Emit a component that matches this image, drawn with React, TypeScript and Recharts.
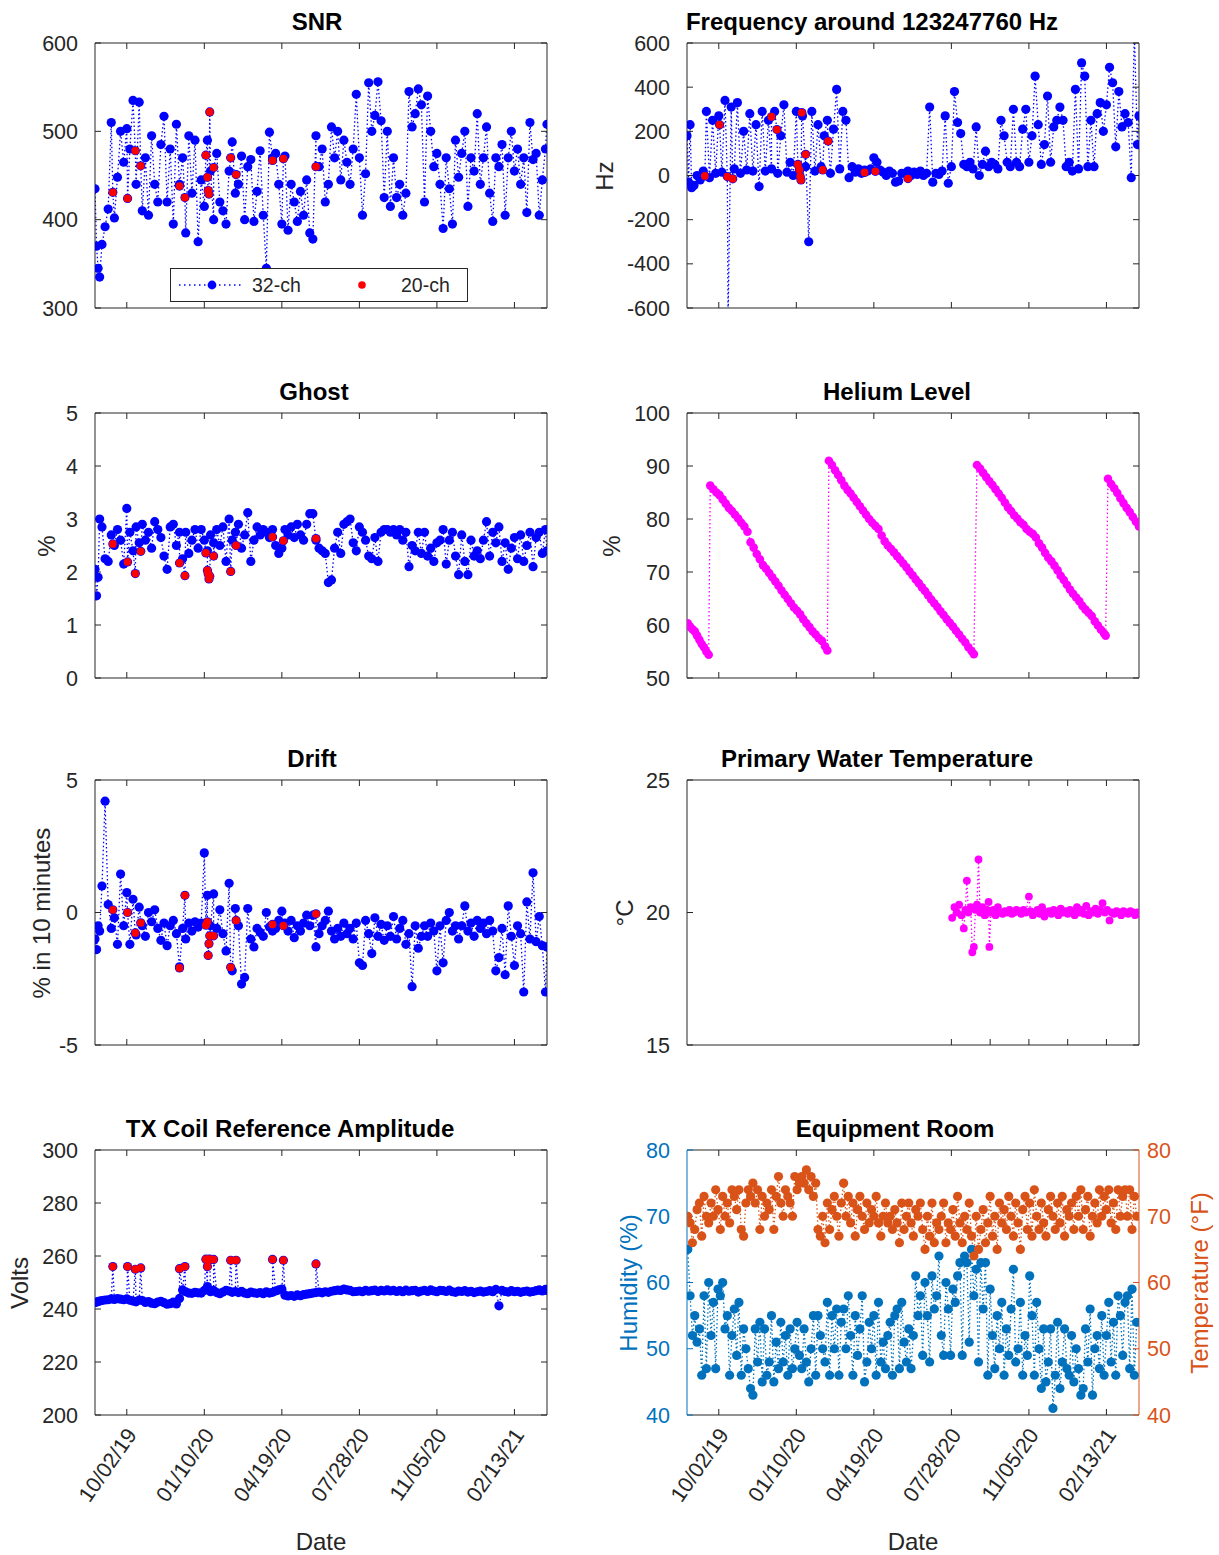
import React from 'react';
import { ComposedChart, Line, XAxis, YAxis } from 'recharts';

const FONT = '"Liberation Sans", Arial, Helvetica, sans-serif';
const INK = '#262626';
const BLUE = '#0000FF';
const RED = '#FF0000';
const MAGENTA = '#FF00FF';
const HUM = '#0072BD';
const TEMP = '#D95319';

// days are counted from 10/02/19
const X_DOMAIN: [number, number] = [-41, 542];
const dateTicks = [0, 100, 200, 300, 400, 500];
const dateLabels = ['10/02/19', '01/10/20', '04/19/20', '07/28/20', '11/05/20', '02/13/21'];
const waterTicks = [300, 350, 400, 450, 500];

// ---- QA scans (32-ch coil)
const qaDays = [
  -41, -39, -37, -35, -32, -28, -24, -20, -16, -12, -8, -4,
  0, 4, 8, 12, 16, 20, 24, 28, 32, 36, 40, 44,
  48, 52, 56, 60, 64, 68, 72, 76, 80, 84, 88, 92,
  96, 100, 104, 108, 112, 116, 120, 124, 128, 132, 136, 140,
  144, 148, 152, 156, 160, 164, 168, 172, 176, 180, 184, 188,
  192, 196, 200, 204, 208, 212, 216, 220, 224, 228, 232, 236,
  240, 244, 248, 252, 256, 260, 264, 268, 272, 276, 280, 284,
  288, 292, 296, 300, 304, 308, 312, 316, 320, 324, 328, 332,
  336, 340, 344, 348, 352, 356, 360, 364, 368, 372, 376, 380,
  384, 388, 392, 396, 400, 404, 408, 412, 416, 420, 424, 428,
  432, 436, 440, 444, 448, 452, 456, 460, 464, 468, 472, 476,
  480, 484, 488, 492, 496, 500, 504, 508, 512, 516, 520, 524,
  528, 532, 536, 540, 542,
];

const snr32 = [
  435, 370, 345, 335, 372, 392, 412, 510, 402, 448, 500, 465,
  503, 480, 535, 440, 533, 410, 470, 405, 495, 440, 420, 485,
  517, 420, 480, 395, 508, 440, 470, 385, 495, 430, 490, 375,
  445, 415, 490, 455, 400, 475, 420, 410, 395, 455, 488, 430,
  440, 472, 400, 460, 468, 398, 432, 478, 405, 345, 499, 470,
  475, 440, 395, 472, 388, 440, 420, 398, 432, 405, 445, 385,
  378, 495, 460, 480, 420, 440, 505, 470, 500, 445, 490, 465,
  440, 480, 542, 470, 405, 452, 555, 500, 518, 556, 512, 425,
  500, 415, 470, 425, 440, 405, 430, 545, 505, 520, 548, 530,
  420, 540, 500, 460, 475, 440, 390, 470, 435, 395, 490, 448,
  475, 500, 415, 470, 455, 520, 440, 470, 505, 430, 398, 470,
  460, 485, 405, 470, 500, 455, 480, 440, 470, 408, 510, 468,
  475, 405, 445, 480, 508,
];

const freq32 = [
  180, -30, 230, -55, -45, 0, -20, 20, 290, -10, 250, 10,
  270, 15, 340, -650, 310, 30, 330, 10, 200, 25, 280, 20,
  230, -50, 290, 20, 250, 30, 290, 10, 180, 320, 15, 60,
  0, 290, 20, 270, 40, -300, 290, 20, 230, 40, 180, 250,
  10, 210, 390, 30, 290, 250, -10, 40, 15, 30, 10, 25,
  20, 30, 80, 60, 25, 15, 0, 20, 10, -30, -25, 10,
  10, 20, 0, 15, 5, 20, 0, 10, 310, -30, 10, 5,
  20, 270, -35, 40, 380, 240, 190, 50, 40, 60, 30, 220,
  0, 50, 110, 40, 60, 50, 30, 250, 180, 60, 40, 300,
  60, 40, 210, 300, 60, 180, 450, 230, 50, 140, 360, 60,
  220, 250, 310, 250, 40, 60, 20, 390, 30, 510, 450, 40,
  250, 40, 280, 330, 200, 320, 490, 420, 130, 380, 220, 280,
  240, -10, 650, 140, 270,
];

const ghost32 = [
  2.05, 1.55, 1.9, 3.0, 2.85, 2.25, 2.2, 2.7, 2.5, 2.8, 2.6, 2.15,
  3.2, 2.75, 2.4, 2.85, 2.55, 2.9, 2.6, 2.75, 2.45, 2.95, 2.8, 2.65,
  2.3, 2.05, 2.85, 2.9, 2.5, 2.75, 2.25, 2.75, 2.35, 2.6, 2.8, 2.45,
  2.8, 2.6, 2.4, 2.7, 2.55, 2.8, 2.5, 2.85, 2.2, 3.0, 2.6, 2.75,
  2.9, 2.45, 2.7, 3.12, 2.2, 2.6, 2.85, 2.7, 2.8, 2.75, 2.65, 2.8,
  2.5, 2.35, 2.45, 2.8, 2.7, 2.85, 2.65, 2.9, 2.7, 2.6, 2.9, 3.1,
  3.1, 2.6, 2.45, 2.4, 2.35, 1.8, 1.85, 2.45, 2.75, 2.35, 2.9, 2.95,
  3.0, 2.55, 2.4, 2.85, 2.75, 2.6, 2.3, 2.25, 2.65, 2.2, 2.75, 2.8,
  2.8, 2.75, 2.8, 2.7, 2.8, 2.6, 2.75, 2.1, 2.5, 2.4, 2.75, 2.35,
  2.75, 2.3, 2.45, 2.2, 2.55, 2.6, 2.8, 2.15, 2.6, 2.75, 2.3, 1.95,
  2.7, 2.2, 1.95, 2.6, 2.3, 2.4, 2.25, 2.6, 2.95, 2.3, 2.75, 2.55,
  2.85, 2.2, 2.55, 2.05, 2.45, 2.65, 2.25, 2.7, 2.2, 2.5, 2.75, 2.1,
  2.65, 2.75, 2.35, 2.8, 2.4,
];

const drift32 = [
  -1.0, -1.4, -0.5, -0.7, 1.0, 4.2, 0.3, -0.6, -0.2, -1.2, 1.45, -0.5,
  0.75, -1.2, 0.5, -0.85, 0.2, -0.5, -0.9, 0.0, -0.35, 0.1, -0.6, -1.05,
  -0.4, -1.25, -0.5, -0.3, -0.8, -2.05, -0.6, -1.0, -0.4, -0.7, -0.35, -0.55,
  -0.4, 2.25, 0.65, -0.5, 0.7, -0.6, 0.1, -0.8, -1.45, 1.1, -2.2, 0.15,
  -0.5, -2.7, -2.45, 0.15, -1.0, -1.3, -0.6, -0.75, -0.9, 0.0, -0.55, -0.7,
  -0.6, -0.3, 0.05, -0.4, -0.7, -0.3, -0.95, -0.5, -0.7, -0.4, -0.1, -0.5,
  -0.1, -1.3, -0.8, -0.5, -0.3, 0.05, -0.7, -1.0, -0.6, -0.9, -0.4, -0.8,
  -0.6, -1.0, -0.4, -1.9, -2.0, -0.3, -0.8, -1.55, -0.2, -0.9, -0.45, -1.05,
  -0.5, -0.9, -0.15, -1.0, -0.6, -0.3, -1.2, -0.8, -2.8, -0.5, -1.35, -0.9,
  -0.5, -0.9, -0.4, -0.7, -2.2, -0.5, -1.9, -0.3, 0.0, -0.7, -0.5, -1.0,
  -0.5, 0.25, -0.7, -0.4, -0.9, -0.3, -0.6, -0.4, -0.8, -0.3, -0.7, -2.2,
  -1.7, -0.6, -2.35, 0.25, -0.9, -2.0, -0.5, -0.8, -3.0, 0.4, -1.0, 1.5,
  -1.1, -0.15, -1.25, -3.0, -1.3,
];

const tx32 = [
  242.5, 242.6, 242.8, 243.0, 243.2, 243.4, 243.5, 243.8, 243.6, 243.9, 243.7, 243.5,
  243.8, 243.3, 243.0, 242.7, 243.4, 243.2, 242.5, 242.8, 242.2, 242.0, 242.6, 242.9,
  242.4, 241.8, 242.0, 242.6, 241.9, 244.0, 247.2, 246.5, 246.0, 245.9, 246.3, 246.1,
  246.0, 247.0, 248.5, 246.5, 247.0, 246.2, 245.8, 246.4, 247.0, 246.8, 246.3, 246.6,
  246.2, 246.7, 246.0, 245.8, 246.4, 246.1, 245.9, 246.2, 245.8, 246.5, 246.0, 246.3,
  246.8, 247.2, 247.5, 245.2, 244.9, 245.1, 244.8, 245.3, 245.0, 245.4, 245.6, 245.8,
  246.0, 246.2, 246.4, 246.1, 246.5, 246.3, 246.7, 246.9, 247.1, 247.0, 247.5, 247.2,
  247.0, 246.5, 246.6, 246.8, 246.5, 247.0, 246.7, 246.9, 247.1, 246.6, 247.0, 246.8,
  247.2, 246.8, 247.0, 246.6, 246.9, 246.5, 247.1, 246.7, 246.9, 247.0, 246.4, 246.8,
  247.0, 246.6, 247.2, 246.8, 246.5, 247.0, 246.9, 246.6, 247.1, 246.5, 246.3, 246.8,
  246.6, 246.9, 246.4, 246.7, 246.2, 246.5, 246.8, 246.4, 246.6, 246.9, 246.5, 247.4,
  241.2, 247.0, 246.6, 246.4, 246.9, 246.5, 246.7, 246.3, 246.6, 246.8, 246.4, 246.6,
  246.9, 247.2, 246.8, 247.4, 247.0,
];

// ---- QA scans (20-ch coil)
const ch20Days = [-18, 1, 11, 18, 68, 75, 102, 104, 105, 106, 107, 112, 134, 141, 188, 202, 244];
const snr20 = [431, 424, 478, 461, 438, 425, 473, 448, 433, 429, 522, 459, 470, 451, 467, 469, 460];
const freq20 = [-2, 230, -5, -15, 266, 208, 50, 25, -5, -20, 285, 96, 25, 156, 14, 19, -14];
const ghost20 = [2.53, 2.19, 1.97, 2.39, 2.17, 1.93, 2.36, 2.03, 1.96, 1.87, 1.92, 2.3, 2.01, 2.5, 2.66, 2.59, 2.63];
const drift20 = [0.1, 0.0, -0.77, -0.39, -2.09, 0.65, -0.48, -0.35, -1.62, -1.18, -0.88, -0.88, -2.07, -0.3, -0.45, -0.5, -0.05];
const tx20 = [256, 256, 255, 255.5, 255.2, 256, 258.8, 256, 258.7, 258.5, 258.8, 258.7, 258.4, 258.4, 258.7, 258.4, 257];

// ---- helium level
const heliumDays = [
  -40, -37, -34, -31, -28, -25, -22, -19, -16, -13,
  -11, -7, -3, 1, 5, 9, 13, 17, 21, 25, 29, 33, 37, 41, 45, 49, 53, 57, 61, 65,
  69, 73, 77, 81, 85, 89, 93, 97, 101, 105, 109, 113, 117, 121, 125, 129, 133, 137, 140,
  142, 146, 150, 154, 158, 162, 166, 170, 174, 178, 182, 186, 190, 194, 198, 202,
  206, 210, 214, 218, 222, 226, 230, 234, 238, 242, 246, 250, 254, 258, 262, 266,
  270, 274, 278, 282, 286, 290, 294, 298, 302, 306, 310, 314, 318, 322, 326, 329,
  333, 337, 341, 345, 349, 353, 357, 361, 365, 369, 373, 377, 381, 385, 389, 393,
  397, 401, 405, 409, 413, 417, 421, 425, 429, 433, 437, 441, 445, 449, 453, 457,
  461, 465, 469, 473, 477, 481, 485, 489, 493, 497, 499,
  502, 506, 510, 514, 518, 522, 526, 530, 534, 538, 542,
];
const heliumLevel = [
  60.3, 59.7, 59.2, 58.8, 58.0, 57.2, 56.4, 55.8, 55.0, 54.4,
  86.3, 85.6, 85.0, 84.5, 83.7, 82.9, 82.1, 81.5, 80.8, 80.1, 79.3, 78.6, 77.6, 75.6, 74.6, 73.4, 72.4, 71.3, 70.6, 69.8,
  69.0, 68.2, 67.4, 66.5, 65.7, 64.9, 64.1, 63.3, 62.7, 62.0, 61.1, 60.3, 59.6, 58.8, 58.2, 57.5, 57.0, 56.0, 55.2,
  91.0, 90.2, 89.2, 88.3, 87.3, 86.3, 85.5, 84.8, 84.0, 83.2, 82.4, 81.6, 80.8, 80.0, 79.3, 78.7,
  78.1, 76.9, 75.8, 75.0, 74.4, 73.7, 73.0, 72.3, 71.6, 70.9, 70.1, 69.4, 68.6, 67.9, 67.1, 66.4,
  65.6, 64.8, 64.1, 63.4, 62.6, 61.9, 61.1, 60.4, 59.7, 58.9, 58.2, 57.4, 56.7, 55.8, 55.1, 54.5,
  90.2, 89.5, 88.7, 87.9, 87.1, 86.4, 85.6, 84.8, 84.0, 83.1, 82.2, 81.5, 80.7, 80.1, 79.4, 78.9,
  78.1, 77.6, 77.2, 76.5, 75.4, 74.6, 73.6, 72.7, 72.0, 71.2, 70.3, 69.3, 68.5, 67.6, 66.7, 65.9,
  65.2, 64.5, 63.6, 62.9, 62.3, 61.7, 60.7, 59.9, 59.1, 58.4, 58.0,
  87.6, 86.6, 85.8, 84.9, 83.9, 83.0, 82.1, 81.3, 80.4, 79.5, 78.6,
];

// ---- primary water temperature
const waterDays = [
  301, 304, 307, 310, 313, 316, 318, 320, 322, 325,
  327, 329, 331, 333, 335, 337, 340, 343, 346, 348,
  349, 351, 354, 357, 360, 363, 366, 369, 372, 375,
  378, 381, 384, 387, 390, 393, 396, 400, 402, 405,
  408, 411, 414, 417, 420, 423, 426, 429, 432, 435,
  438, 441, 444, 447, 450, 453, 456, 459, 462, 465,
  468, 471, 474, 477, 480, 483, 486, 489, 492, 495,
  498, 501, 504, 507, 510, 513, 516, 519, 522, 525,
  528, 531, 534, 537, 540, 542,
];
const waterTemp = [
  19.8, 20.2, 20.0, 20.3, 19.9, 19.4, 20.1, 21.2, 20.0, 20.2,
  18.5, 18.7, 20.1, 20.3, 22.0, 20.0, 20.2, 19.9, 20.1, 20.4,
  18.7, 20.0, 20.1, 19.9, 20.2, 20.0, 19.95, 20.05, 20.0, 20.1,
  19.95, 20.0, 20.1, 20.05, 19.95, 20.1, 20.0, 20.6, 20.05, 19.9,
  20.0, 20.1, 19.95, 20.2, 19.85, 20.0, 20.05, 19.95, 20.1, 20.0,
  19.9, 20.15, 20.0, 20.05, 19.95, 20.1, 20.0, 19.9, 20.2, 20.0,
  20.1, 19.95, 20.25, 19.9, 20.05, 20.0, 20.15, 19.95, 20.1, 20.35,
  20.0, 20.1, 19.7, 20.0, 19.95, 20.05, 20.0, 19.9, 20.05, 20.0,
  19.95, 20.05, 20.0, 19.9, 20.0, 19.95,
];

// ---- equipment room
const roomDays = [
  -40, -37, -34, -31, -28, -25, -22, -19, -16, -13,
  -10, -7, -4, -1, 2, 5, 8, 11, 14, 17,
  20, 23, 26, 29, 32, 35, 38, 41, 44, 47,
  50, 53, 56, 59, 62, 65, 68, 71, 74, 77,
  80, 83, 86, 89, 92, 95, 98, 101, 104, 107,
  110, 113, 116, 119, 122, 125, 128, 131, 134, 137,
  140, 143, 146, 149, 152, 155, 158, 161, 164, 167,
  170, 173, 176, 179, 182, 185, 188, 191, 194, 197,
  200, 203, 206, 209, 212, 215, 218, 221, 224, 227,
  230, 233, 236, 239, 242, 245, 248, 251, 254, 257,
  260, 263, 266, 269, 272, 275, 278, 281, 284, 287,
  290, 293, 296, 299, 302, 305, 308, 311, 314, 317,
  320, 323, 326, 329, 332, 335, 338, 341, 344, 347,
  350, 353, 356, 359, 362, 365, 368, 371, 374, 377,
  380, 383, 386, 389, 392, 395, 398, 401, 404, 407,
  410, 413, 416, 419, 422, 425, 428, 431, 434, 437,
  440, 443, 446, 449, 452, 455, 458, 461, 464, 467,
  470, 473, 476, 479, 482, 485, 488, 491, 494, 497,
  500, 503, 506, 509, 512, 515, 518, 521, 524, 527,
  530, 533, 536, 539,
];
const roomHumidity = [
  65, 58, 52, 55, 51, 53, 46, 58, 47, 60,
  52, 57, 47, 59, 58, 60, 53, 55, 46, 52,
  56, 49, 57, 46, 53, 50, 47, 44, 43, 53,
  48, 54, 45, 53, 46, 48, 55, 45, 51, 47,
  54, 48, 52, 46, 53, 47, 50, 54, 49, 47,
  53, 48, 45, 50, 55, 46, 55, 52, 50, 48,
  57, 46, 55, 50, 56, 46, 54, 56, 50, 58,
  52, 46, 55, 49, 53, 58, 45, 48, 54, 50,
  55, 46, 57, 48, 51, 47, 52, 54, 46, 55,
  56, 47, 57, 51, 48, 53, 47, 52, 61, 55,
  58, 49, 60, 55, 48, 61, 56, 58, 64, 52,
  49, 60, 56, 49, 59, 57, 61, 63, 49, 64,
  63, 51, 65, 58, 62, 48, 63, 56, 63, 46,
  59, 52, 47, 55, 50, 57, 46, 53, 49, 56,
  62, 48, 50, 57, 46, 52, 49, 61, 55, 46,
  57, 50, 44, 53, 45, 48, 53, 41, 46, 54,
  44, 48, 53, 47, 46, 52, 45, 50, 47, 43,
  44, 53, 48, 56, 43, 50, 52, 47, 55, 46,
  52, 57, 48, 54, 46, 58, 55, 49, 57, 58,
  47, 59, 46, 54,
];
const roomTempF = [
  70, 69, 66, 68, 71, 72, 67, 73, 70, 69,
  72, 70, 74, 71, 68, 73, 70, 72, 69, 74,
  73, 71, 74, 68, 67, 72, 74, 73, 75, 72,
  74, 68, 73, 70, 72, 71, 74, 68, 73, 76,
  72, 70, 74, 73, 72, 70, 76, 74, 75, 76,
  75, 77, 74, 76, 73, 75, 68, 67, 70, 66,
  72, 68, 71, 73, 70, 67, 72, 75, 70, 73,
  69, 72, 67, 71, 73, 70, 68, 72, 69, 71,
  70, 73, 69, 67, 70, 72, 69, 70, 68, 71,
  69, 66, 72, 68, 70, 72, 69, 67, 71, 70,
  72, 68, 65, 70, 67, 72, 66, 69, 68, 70,
  72, 66, 69, 68, 71, 67, 73, 69, 66, 70,
  68, 72, 67, 64, 70, 65, 68, 71, 66, 69,
  73, 67, 70, 65, 72, 69, 71, 68, 73, 70,
  67, 72, 69, 65, 71, 73, 68, 72, 67, 74,
  70, 68, 72, 69, 67, 71, 73, 70, 68, 72,
  69, 73, 67, 71, 70, 72, 68, 73, 70, 74,
  68, 71, 73, 67, 70, 72, 69, 74, 70, 73,
  71, 74, 69, 72, 68, 74, 70, 73, 74, 70,
  74, 68, 73, 70,
];

type Pt = { day: number; v: number };
const zip = (days: number[], vals: number[]): Pt[] => days.map((day, i) => ({ day, v: vals[i] }));
// the 32-ch line runs through every scan; 20-ch scans are drawn again in red on top
const allScans = (a: Pt[], b: Pt[]) => [...a, ...b].sort((p, q) => p.day - q.day);

const snrRed = zip(ch20Days, snr20);
const freqRed = zip(ch20Days, freq20);
const ghostRed = zip(ch20Days, ghost20);
const driftRed = zip(ch20Days, drift20);
const txRed = zip(ch20Days, tx20);

const PLOT_W = 452;
const PLOT_H = 265;
const LEFT_W = 90;
const RIGHT_W = 70;
const TOP_M = 12;
const TICK_FONT = 21.5;

interface SeriesDef {
  data: Pt[];
  color: string;
  line?: boolean;
  r?: number;
  right?: boolean;
}

interface RightAxisDef {
  domain: [number, number];
  ticks: number[];
  color: string;
}

interface PanelProps {
  left: number;
  top: number;
  title: string;
  titleX: number;
  yDomain: [number, number];
  yTicks: number[];
  yLabel?: string;
  yLabelX?: number;
  leftColor?: string;
  series: SeriesDef[];
  xTicks?: number[];
  dates?: boolean;
  rightAxis?: RightAxisDef;
  rightLabel?: string;
  rightLabelX?: number;
}

const DateTick = (props: any) => {
  const { x, y, payload } = props;
  const label = dateLabels[dateTicks.indexOf(payload.value)] ?? '';
  const ax = x + 5;
  return (
    <text
      x={ax}
      y={y}
      textAnchor="end"
      dominantBaseline="central"
      transform={`rotate(-55 ${ax} ${y})`}
      fill={INK}
      fontSize={TICK_FONT}
      fontFamily={FONT}
    >
      {label}
    </text>
  );
};

const VLabel = ({ x, y, text, color = INK }: { x: number; y: number; text: string; color?: string }) => (
  <div
    style={{
      position: 'absolute',
      left: x,
      top: y,
      transform: 'translate(-50%, -50%) rotate(-90deg)',
      whiteSpace: 'nowrap',
      fontSize: 24,
      lineHeight: '24px',
      color,
    }}
  >
    {text}
  </div>
);

const blank = () => '';

const Panel = (p: PanelProps) => {
  const xTicks = p.xTicks ?? dateTicks;
  const bottomH = p.dates ? 140 : 12;
  const width = LEFT_W + PLOT_W + RIGHT_W;
  const height = TOP_M + PLOT_H + bottomH;
  const leftInk = p.leftColor ?? INK;
  const rightAxis = p.rightAxis ?? { domain: p.yDomain, ticks: p.yTicks, color: INK };
  const rightW = p.rightAxis ? RIGHT_W : 1;

  return (
    <>
      <div
        style={{
          position: 'absolute',
          left: p.titleX - 300,
          top: p.top - 33,
          width: 600,
          textAlign: 'center',
          fontSize: 24,
          lineHeight: '24px',
          fontWeight: 'bold',
          color: '#000',
        }}
      >
        {p.title}
      </div>
      <div style={{ position: 'absolute', left: p.left - LEFT_W, top: p.top - TOP_M }}>
        <ComposedChart
          width={width}
          height={height}
          margin={{ top: TOP_M - 1, right: RIGHT_W - rightW, bottom: 0, left: 0 }}
        >
          <XAxis
            xAxisId="b"
            type="number"
            dataKey="day"
            domain={X_DOMAIN}
            ticks={xTicks}
            interval={0}
            allowDataOverflow
            height={bottomH}
            stroke={INK}
            tickSize={-6}
            tickMargin={22}
            tick={p.dates ? (props: any) => <DateTick {...props} /> : { fill: INK }}
            tickFormatter={p.dates ? undefined : blank}
          />
          <XAxis
            xAxisId="t"
            orientation="top"
            type="number"
            dataKey="day"
            domain={X_DOMAIN}
            ticks={xTicks}
            interval={0}
            allowDataOverflow
            height={1}
            stroke={INK}
            tickSize={-6}
            tickFormatter={blank}
          />
          <YAxis
            yAxisId="l"
            type="number"
            domain={p.yDomain}
            ticks={p.yTicks}
            interval={0}
            allowDataOverflow
            width={LEFT_W}
            stroke={leftInk}
            tickSize={-6}
            tickMargin={23}
            tick={{ fill: leftInk, fontSize: TICK_FONT }}
          />
          <YAxis
            yAxisId="r"
            orientation="right"
            type="number"
            domain={rightAxis.domain}
            ticks={rightAxis.ticks}
            interval={0}
            allowDataOverflow
            width={rightW}
            stroke={rightAxis.color}
            tickSize={-6}
            tickMargin={14}
            tick={{ fill: rightAxis.color, fontSize: TICK_FONT }}
            tickFormatter={p.rightAxis ? undefined : blank}
          />
          {p.series.map((s, i) => (
            <Line
              key={i}
              xAxisId="b"
              yAxisId={s.right ? 'r' : 'l'}
              data={s.data}
              dataKey="v"
              type="linear"
              stroke={s.line === false ? 'none' : s.color}
              strokeWidth={1.3}
              strokeDasharray="1.5 2.5"
              dot={{ r: s.r ?? 4.6, fill: s.color, stroke: 'none', strokeDasharray: '' }}
              activeDot={false}
              isAnimationActive={false}
            />
          ))}
        </ComposedChart>
      </div>
      {p.yLabel && <VLabel x={p.yLabelX ?? p.left - 50} y={p.top + PLOT_H / 2} text={p.yLabel} color={leftInk} />}
      {p.rightLabel && (
        <VLabel x={p.rightLabelX ?? p.left + PLOT_W + 60} y={p.top + PLOT_H / 2} text={p.rightLabel} color={rightAxis.color} />
      )}
      {p.dates && (
        <div
          style={{
            position: 'absolute',
            left: p.left,
            top: p.top + PLOT_H + 115,
            width: PLOT_W,
            textAlign: 'center',
            fontSize: 24,
            lineHeight: '24px',
            color: INK,
          }}
        >
          Date
        </div>
      )}
    </>
  );
};

const SnrLegend = () => (
  <div
    style={{
      position: 'absolute',
      left: 170,
      top: 268,
      width: 298,
      height: 34,
      boxSizing: 'border-box',
      border: `1.5px solid ${INK}`,
      background: '#fff',
      fontSize: 19.5,
      lineHeight: '24px',
      color: INK,
    }}
  >
    <svg width={296} height={31} style={{ position: 'absolute', left: 0, top: 0 }}>
      <line x1={8} y1={16} x2={70} y2={16} stroke={BLUE} strokeWidth={1.3} strokeDasharray="1.5 3.5" />
      <circle cx={41} cy={16} r={4.4} fill={BLUE} />
      <circle cx={191} cy={16} r={3.8} fill={RED} />
    </svg>
    <span style={{ position: 'absolute', left: 81, top: 4 }}>32-ch</span>
    <span style={{ position: 'absolute', left: 230, top: 4 }}>20-ch</span>
  </div>
);

const L = 95;
const R = 687;

export default function App() {
  return (
    <div
      style={{
        position: 'absolute',
        left: 0,
        top: 0,
        width: 1219,
        height: 1555,
        background: '#fff',
        overflow: 'hidden',
        fontFamily: FONT,
        color: INK,
      }}
    >
      <Panel
        left={L}
        top={43}
        title="SNR"
        titleX={317}
        yDomain={[300, 600]}
        yTicks={[300, 400, 500, 600]}
        series={[
          { data: allScans(zip(qaDays, snr32), snrRed), color: BLUE },
          { data: snrRed, color: RED, line: false, r: 3.9 },
        ]}
      />
      <SnrLegend />
      <Panel
        left={R}
        top={43}
        title="Frequency around 123247760 Hz"
        titleX={872}
        yDomain={[-600, 600]}
        yTicks={[-600, -400, -200, 0, 200, 400, 600]}
        yLabel="Hz"
        yLabelX={605}
        series={[
          { data: allScans(zip(qaDays, freq32), freqRed), color: BLUE },
          { data: freqRed, color: RED, line: false, r: 3.9 },
        ]}
      />
      <Panel
        left={L}
        top={413}
        title="Ghost"
        titleX={314}
        yDomain={[0, 5]}
        yTicks={[0, 1, 2, 3, 4, 5]}
        yLabel="%"
        yLabelX={47}
        series={[
          { data: allScans(zip(qaDays, ghost32), ghostRed), color: BLUE },
          { data: ghostRed, color: RED, line: false, r: 3.9 },
        ]}
      />
      <Panel
        left={R}
        top={413}
        title="Helium Level"
        titleX={897}
        yDomain={[50, 100]}
        yTicks={[50, 60, 70, 80, 90, 100]}
        yLabel="%"
        yLabelX={612}
        series={[{ data: zip(heliumDays, heliumLevel), color: MAGENTA, r: 4.3 }]}
      />
      <Panel
        left={L}
        top={780}
        title="Drift"
        titleX={312}
        yDomain={[-5, 5]}
        yTicks={[-5, 0, 5]}
        yLabel="% in 10 minutes"
        yLabelX={42}
        series={[
          { data: allScans(zip(qaDays, drift32), driftRed), color: BLUE },
          { data: driftRed, color: RED, line: false, r: 3.9 },
        ]}
      />
      <Panel
        left={R}
        top={780}
        title="Primary Water Temperature"
        titleX={877}
        yDomain={[15, 25]}
        yTicks={[15, 20, 25]}
        yLabel="°C"
        yLabelX={625}
        xTicks={waterTicks}
        series={[{ data: zip(waterDays, waterTemp), color: MAGENTA, r: 3.9 }]}
      />
      <Panel
        left={L}
        top={1150}
        title="TX Coil Reference Amplitude"
        titleX={290}
        yDomain={[200, 300]}
        yTicks={[200, 220, 240, 260, 280, 300]}
        yLabel="Volts"
        yLabelX={20}
        dates
        series={[
          { data: allScans(zip(qaDays, tx32), txRed), color: BLUE },
          { data: txRed, color: RED, line: false, r: 3.9 },
        ]}
      />
      <Panel
        left={R}
        top={1150}
        title="Equipment Room"
        titleX={895}
        yDomain={[40, 80]}
        yTicks={[40, 50, 60, 70, 80]}
        yLabel="Humidity (%)"
        yLabelX={629}
        leftColor={HUM}
        dates
        rightAxis={{ domain: [40, 80], ticks: [40, 50, 60, 70, 80], color: TEMP }}
        rightLabel="Temperature (°F)"
        rightLabelX={1200}
        series={[
          { data: zip(roomDays, roomHumidity), color: HUM, r: 4.6 },
          { data: zip(roomDays, roomTempF), color: TEMP, r: 4.6, right: true },
        ]}
      />
    </div>
  );
}
